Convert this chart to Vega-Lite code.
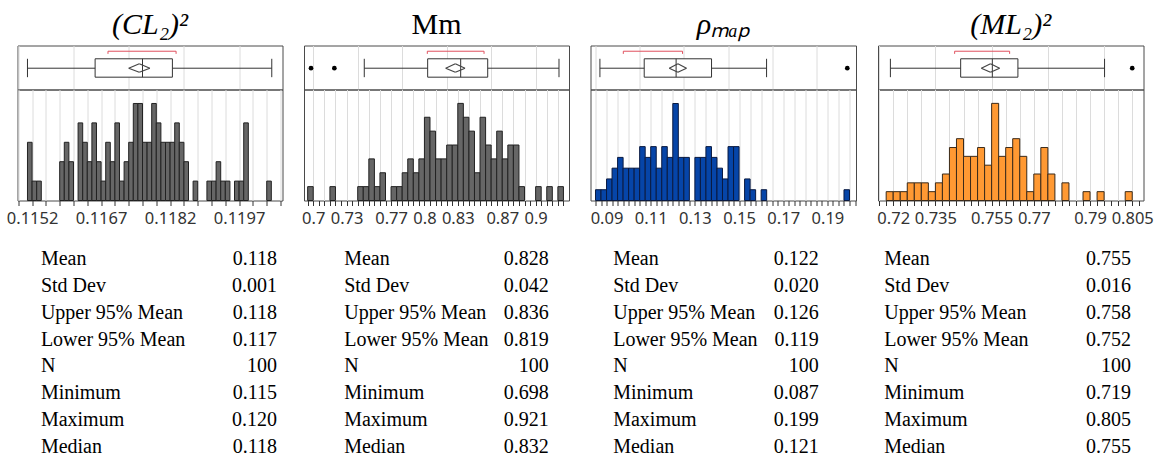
{
  "$schema": "https://vega.github.io/schema/vega-lite/v6.json",
  "background": "white",
  "padding": {"left": 5.5, "top": 8.5, "right": 5, "bottom": 0},
  "config": {
    "view": {"stroke": "#4a4a4a", "strokeWidth": 1},
    "title": {"font": "Liberation Serif", "fontSize": 30, "fontWeight": "normal", "color": "#000000", "offset": 6, "anchor": "middle"},
    "axis": {"labelFont": "Noto Sans", "labelFontSize": 16.5, "labelColor": "#333333", "gridColor": "#dcdcdc", "gridWidth": 1, "tickColor": "#333333", "tickSize": 5, "labelPadding": 4.5, "labelOverlap": false, "labelFlush": false, "domain": false}
  },
  "datasets": {
    "hist": [
      {"panel": "p1", "b0": 0.1151, "b1": 0.1152, "n": 3},
      {"panel": "p1", "b0": 0.1152, "b1": 0.1153, "n": 1},
      {"panel": "p1", "b0": 0.1153, "b1": 0.1154, "n": 1},
      {"panel": "p1", "b0": 0.1158, "b1": 0.1159, "n": 2},
      {"panel": "p1", "b0": 0.1159, "b1": 0.1160, "n": 3},
      {"panel": "p1", "b0": 0.1160, "b1": 0.1161, "n": 2},
      {"panel": "p1", "b0": 0.1162, "b1": 0.1163, "n": 4},
      {"panel": "p1", "b0": 0.1163, "b1": 0.1164, "n": 3},
      {"panel": "p1", "b0": 0.1164, "b1": 0.1165, "n": 2},
      {"panel": "p1", "b0": 0.1165, "b1": 0.1166, "n": 4},
      {"panel": "p1", "b0": 0.1166, "b1": 0.1167, "n": 2},
      {"panel": "p1", "b0": 0.1167, "b1": 0.1168, "n": 1},
      {"panel": "p1", "b0": 0.1168, "b1": 0.1169, "n": 3},
      {"panel": "p1", "b0": 0.1169, "b1": 0.1170, "n": 2},
      {"panel": "p1", "b0": 0.1170, "b1": 0.1171, "n": 4},
      {"panel": "p1", "b0": 0.1171, "b1": 0.1172, "n": 1},
      {"panel": "p1", "b0": 0.1172, "b1": 0.1173, "n": 2},
      {"panel": "p1", "b0": 0.1173, "b1": 0.1174, "n": 3},
      {"panel": "p1", "b0": 0.1174, "b1": 0.1175, "n": 5},
      {"panel": "p1", "b0": 0.1175, "b1": 0.1176, "n": 5},
      {"panel": "p1", "b0": 0.1176, "b1": 0.1177, "n": 3},
      {"panel": "p1", "b0": 0.1177, "b1": 0.1178, "n": 3},
      {"panel": "p1", "b0": 0.1178, "b1": 0.1179, "n": 5},
      {"panel": "p1", "b0": 0.1179, "b1": 0.1180, "n": 4},
      {"panel": "p1", "b0": 0.1180, "b1": 0.1181, "n": 3},
      {"panel": "p1", "b0": 0.1181, "b1": 0.1182, "n": 3},
      {"panel": "p1", "b0": 0.1182, "b1": 0.1183, "n": 3},
      {"panel": "p1", "b0": 0.1183, "b1": 0.1184, "n": 4},
      {"panel": "p1", "b0": 0.1184, "b1": 0.1185, "n": 3},
      {"panel": "p1", "b0": 0.1185, "b1": 0.1186, "n": 2},
      {"panel": "p1", "b0": 0.1187, "b1": 0.1188, "n": 1},
      {"panel": "p1", "b0": 0.1190, "b1": 0.1191, "n": 1},
      {"panel": "p1", "b0": 0.1191, "b1": 0.1192, "n": 1},
      {"panel": "p1", "b0": 0.1192, "b1": 0.1193, "n": 2},
      {"panel": "p1", "b0": 0.1193, "b1": 0.1194, "n": 1},
      {"panel": "p1", "b0": 0.1194, "b1": 0.1195, "n": 1},
      {"panel": "p1", "b0": 0.1196, "b1": 0.1197, "n": 1},
      {"panel": "p1", "b0": 0.1197, "b1": 0.1198, "n": 1},
      {"panel": "p1", "b0": 0.1198, "b1": 0.1199, "n": 4},
      {"panel": "p1", "b0": 0.1203, "b1": 0.1204, "n": 1},

      {"panel": "p2", "b0": 0.695, "b1": 0.700, "n": 1},
      {"panel": "p2", "b0": 0.715, "b1": 0.720, "n": 1},
      {"panel": "p2", "b0": 0.740, "b1": 0.745, "n": 1},
      {"panel": "p2", "b0": 0.745, "b1": 0.750, "n": 1},
      {"panel": "p2", "b0": 0.750, "b1": 0.755, "n": 3},
      {"panel": "p2", "b0": 0.755, "b1": 0.760, "n": 1},
      {"panel": "p2", "b0": 0.760, "b1": 0.765, "n": 2},
      {"panel": "p2", "b0": 0.770, "b1": 0.775, "n": 1},
      {"panel": "p2", "b0": 0.775, "b1": 0.780, "n": 1},
      {"panel": "p2", "b0": 0.780, "b1": 0.785, "n": 2},
      {"panel": "p2", "b0": 0.785, "b1": 0.790, "n": 3},
      {"panel": "p2", "b0": 0.790, "b1": 0.795, "n": 2},
      {"panel": "p2", "b0": 0.795, "b1": 0.800, "n": 3},
      {"panel": "p2", "b0": 0.800, "b1": 0.805, "n": 6},
      {"panel": "p2", "b0": 0.805, "b1": 0.810, "n": 5},
      {"panel": "p2", "b0": 0.810, "b1": 0.815, "n": 3},
      {"panel": "p2", "b0": 0.815, "b1": 0.820, "n": 3},
      {"panel": "p2", "b0": 0.820, "b1": 0.825, "n": 4},
      {"panel": "p2", "b0": 0.825, "b1": 0.830, "n": 4},
      {"panel": "p2", "b0": 0.830, "b1": 0.835, "n": 7},
      {"panel": "p2", "b0": 0.835, "b1": 0.840, "n": 6},
      {"panel": "p2", "b0": 0.840, "b1": 0.845, "n": 5},
      {"panel": "p2", "b0": 0.845, "b1": 0.850, "n": 2},
      {"panel": "p2", "b0": 0.850, "b1": 0.855, "n": 6},
      {"panel": "p2", "b0": 0.855, "b1": 0.860, "n": 4},
      {"panel": "p2", "b0": 0.860, "b1": 0.865, "n": 3},
      {"panel": "p2", "b0": 0.865, "b1": 0.870, "n": 5},
      {"panel": "p2", "b0": 0.870, "b1": 0.875, "n": 3},
      {"panel": "p2", "b0": 0.875, "b1": 0.880, "n": 4},
      {"panel": "p2", "b0": 0.880, "b1": 0.885, "n": 4},
      {"panel": "p2", "b0": 0.885, "b1": 0.890, "n": 1},
      {"panel": "p2", "b0": 0.900, "b1": 0.905, "n": 1},
      {"panel": "p2", "b0": 0.910, "b1": 0.915, "n": 1},
      {"panel": "p2", "b0": 0.920, "b1": 0.925, "n": 1},

      {"panel": "p3", "b0": 0.085, "b1": 0.0875, "n": 1},
      {"panel": "p3", "b0": 0.0875, "b1": 0.09, "n": 1},
      {"panel": "p3", "b0": 0.09, "b1": 0.0925, "n": 2},
      {"panel": "p3", "b0": 0.0925, "b1": 0.095, "n": 3},
      {"panel": "p3", "b0": 0.095, "b1": 0.0975, "n": 4},
      {"panel": "p3", "b0": 0.0975, "b1": 0.1, "n": 3},
      {"panel": "p3", "b0": 0.1, "b1": 0.1025, "n": 3},
      {"panel": "p3", "b0": 0.1025, "b1": 0.105, "n": 3},
      {"panel": "p3", "b0": 0.105, "b1": 0.1075, "n": 5},
      {"panel": "p3", "b0": 0.1075, "b1": 0.11, "n": 4},
      {"panel": "p3", "b0": 0.11, "b1": 0.1125, "n": 5},
      {"panel": "p3", "b0": 0.1125, "b1": 0.115, "n": 3},
      {"panel": "p3", "b0": 0.115, "b1": 0.1175, "n": 5},
      {"panel": "p3", "b0": 0.1175, "b1": 0.12, "n": 4},
      {"panel": "p3", "b0": 0.12, "b1": 0.1225, "n": 9},
      {"panel": "p3", "b0": 0.1225, "b1": 0.125, "n": 4},
      {"panel": "p3", "b0": 0.125, "b1": 0.1275, "n": 4},
      {"panel": "p3", "b0": 0.13, "b1": 0.1325, "n": 4},
      {"panel": "p3", "b0": 0.1325, "b1": 0.135, "n": 4},
      {"panel": "p3", "b0": 0.135, "b1": 0.1375, "n": 5},
      {"panel": "p3", "b0": 0.1375, "b1": 0.14, "n": 4},
      {"panel": "p3", "b0": 0.14, "b1": 0.1425, "n": 3},
      {"panel": "p3", "b0": 0.1425, "b1": 0.145, "n": 2},
      {"panel": "p3", "b0": 0.145, "b1": 0.1475, "n": 5},
      {"panel": "p3", "b0": 0.1475, "b1": 0.15, "n": 5},
      {"panel": "p3", "b0": 0.1525, "b1": 0.155, "n": 2},
      {"panel": "p3", "b0": 0.155, "b1": 0.1575, "n": 1},
      {"panel": "p3", "b0": 0.16, "b1": 0.1625, "n": 1},
      {"panel": "p3", "b0": 0.1975, "b1": 0.2, "n": 1},

      {"panel": "p4", "b0": 0.7175, "b1": 0.72, "n": 1},
      {"panel": "p4", "b0": 0.72, "b1": 0.7225, "n": 1},
      {"panel": "p4", "b0": 0.7225, "b1": 0.725, "n": 1},
      {"panel": "p4", "b0": 0.725, "b1": 0.7275, "n": 2},
      {"panel": "p4", "b0": 0.7275, "b1": 0.73, "n": 2},
      {"panel": "p4", "b0": 0.73, "b1": 0.7325, "n": 2},
      {"panel": "p4", "b0": 0.7325, "b1": 0.735, "n": 1},
      {"panel": "p4", "b0": 0.735, "b1": 0.7375, "n": 2},
      {"panel": "p4", "b0": 0.7375, "b1": 0.74, "n": 3},
      {"panel": "p4", "b0": 0.74, "b1": 0.7425, "n": 6},
      {"panel": "p4", "b0": 0.7425, "b1": 0.745, "n": 7},
      {"panel": "p4", "b0": 0.745, "b1": 0.7475, "n": 5},
      {"panel": "p4", "b0": 0.7475, "b1": 0.75, "n": 5},
      {"panel": "p4", "b0": 0.75, "b1": 0.7525, "n": 6},
      {"panel": "p4", "b0": 0.7525, "b1": 0.755, "n": 4},
      {"panel": "p4", "b0": 0.755, "b1": 0.7575, "n": 11},
      {"panel": "p4", "b0": 0.7575, "b1": 0.76, "n": 5},
      {"panel": "p4", "b0": 0.76, "b1": 0.7625, "n": 6},
      {"panel": "p4", "b0": 0.7625, "b1": 0.765, "n": 7},
      {"panel": "p4", "b0": 0.765, "b1": 0.7675, "n": 5},
      {"panel": "p4", "b0": 0.7675, "b1": 0.77, "n": 1},
      {"panel": "p4", "b0": 0.77, "b1": 0.7725, "n": 3},
      {"panel": "p4", "b0": 0.7725, "b1": 0.775, "n": 6},
      {"panel": "p4", "b0": 0.775, "b1": 0.7775, "n": 3},
      {"panel": "p4", "b0": 0.78, "b1": 0.7825, "n": 2},
      {"panel": "p4", "b0": 0.7875, "b1": 0.79, "n": 1},
      {"panel": "p4", "b0": 0.7925, "b1": 0.795, "n": 1},
      {"panel": "p4", "b0": 0.8025, "b1": 0.805, "n": 1}
    ],
    "box": [
      {"panel": "p1", "wlo": 0.1151, "whi": 0.12041, "q1": 0.11657, "q3": 0.11825, "med": 0.1176, "mean": 0.11753, "clo": 0.1173, "chi": 0.11776, "blo": 0.11685, "bhi": 0.11833},
      {"panel": "p2", "wlo": 0.7459, "whi": 0.921, "q1": 0.8029, "q3": 0.8569, "med": 0.8326, "mean": 0.8278, "clo": 0.8191, "chi": 0.8365, "blo": 0.8026, "bhi": 0.8536},
      {"panel": "p3", "wlo": 0.087, "whi": 0.16245, "q1": 0.10706, "q3": 0.13754, "med": 0.1215, "mean": 0.1223, "clo": 0.1184, "chi": 0.1262, "blo": 0.0976, "bhi": 0.1244},
      {"panel": "p4", "wlo": 0.719, "whi": 0.79516, "q1": 0.74399, "q3": 0.76435, "med": 0.75525, "mean": 0.7546, "clo": 0.75134, "chi": 0.75784, "blo": 0.74185, "bhi": 0.7614}
    ],
    "out": [
      {"panel": "p2", "v": 0.698},
      {"panel": "p2", "v": 0.719},
      {"panel": "p3", "v": 0.199},
      {"panel": "p4", "v": 0.805}
    ],
    "stats": [
      {"panel": "p1", "stat": "Mean", "val": "0.118"},
      {"panel": "p1", "stat": "Std Dev", "val": "0.001"},
      {"panel": "p1", "stat": "Upper 95% Mean", "val": "0.118"},
      {"panel": "p1", "stat": "Lower 95% Mean", "val": "0.117"},
      {"panel": "p1", "stat": "N", "val": "100"},
      {"panel": "p1", "stat": "Minimum", "val": "0.115"},
      {"panel": "p1", "stat": "Maximum", "val": "0.120"},
      {"panel": "p1", "stat": "Median", "val": "0.118"},
      {"panel": "p2", "stat": "Mean", "val": "0.828"},
      {"panel": "p2", "stat": "Std Dev", "val": "0.042"},
      {"panel": "p2", "stat": "Upper 95% Mean", "val": "0.836"},
      {"panel": "p2", "stat": "Lower 95% Mean", "val": "0.819"},
      {"panel": "p2", "stat": "N", "val": "100"},
      {"panel": "p2", "stat": "Minimum", "val": "0.698"},
      {"panel": "p2", "stat": "Maximum", "val": "0.921"},
      {"panel": "p2", "stat": "Median", "val": "0.832"},
      {"panel": "p3", "stat": "Mean", "val": "0.122"},
      {"panel": "p3", "stat": "Std Dev", "val": "0.020"},
      {"panel": "p3", "stat": "Upper 95% Mean", "val": "0.126"},
      {"panel": "p3", "stat": "Lower 95% Mean", "val": "0.119"},
      {"panel": "p3", "stat": "N", "val": "100"},
      {"panel": "p3", "stat": "Minimum", "val": "0.087"},
      {"panel": "p3", "stat": "Maximum", "val": "0.199"},
      {"panel": "p3", "stat": "Median", "val": "0.121"},
      {"panel": "p4", "stat": "Mean", "val": "0.755"},
      {"panel": "p4", "stat": "Std Dev", "val": "0.016"},
      {"panel": "p4", "stat": "Upper 95% Mean", "val": "0.758"},
      {"panel": "p4", "stat": "Lower 95% Mean", "val": "0.752"},
      {"panel": "p4", "stat": "N", "val": "100"},
      {"panel": "p4", "stat": "Minimum", "val": "0.719"},
      {"panel": "p4", "stat": "Maximum", "val": "0.805"},
      {"panel": "p4", "stat": "Median", "val": "0.755"}
    ]
  },
  "columns": 4,
  "spacing": {"row": 0, "column": 21.5},
  "bounds": "flush",
  "concat": [
    {
      "width": 265, "height": 44,
      "title": {"text": "(CL₂)²", "fontStyle": "italic"},
      "layer": [
        {
          "data": {"name": "box"},
          "transform": [{"filter": "datum.panel == 'p1'"}],
          "layer": [
            {"mark": {"type": "rule", "color": "#333333"}, "encoding": {
              "x": {"field": "wlo", "type": "quantitative", "scale": {"domain": [0.114883, 0.120643], "nice": false, "zero": false}, "axis": {"title": null, "labels": false, "ticks": false, "domain": false, "grid": true, "values": [0.1149, 0.1152, 0.1155, 0.1158, 0.1161, 0.1164, 0.1167, 0.117, 0.1173, 0.1176, 0.1179, 0.1182, 0.1185, 0.1188, 0.1191, 0.1194, 0.1197, 0.12, 0.1203, 0.1206]}},
              "x2": {"field": "whi"},
              "y": {"datum": 0.484, "type": "quantitative", "scale": {"domain": [0, 1], "nice": false, "zero": false}, "axis": null}}},
            {"mark": {"type": "rule", "color": "#333333"}, "encoding": {"x": {"field": "wlo", "type": "quantitative"}, "y": {"datum": 0.28, "type": "quantitative", "axis": null}, "y2": {"datum": 0.698}}},
            {"mark": {"type": "rule", "color": "#333333"}, "encoding": {"x": {"field": "whi", "type": "quantitative"}, "y": {"datum": 0.28, "type": "quantitative", "axis": null}, "y2": {"datum": 0.698}}},
            {"mark": {"type": "rect", "fill": "white", "stroke": "#333333", "strokeWidth": 1}, "encoding": {"x": {"field": "q1", "type": "quantitative"}, "x2": {"field": "q3"}, "y": {"datum": 0.28, "type": "quantitative", "axis": null}, "y2": {"datum": 0.698}}},
            {"mark": {"type": "rule", "color": "#333333"}, "encoding": {"x": {"field": "med", "type": "quantitative"}, "y": {"datum": 0.28, "type": "quantitative", "axis": null}, "y2": {"datum": 0.698}}},
            {"mark": {"type": "rule", "color": "#444444", "strokeWidth": 1.2}, "encoding": {"x": {"field": "clo", "type": "quantitative"}, "x2": {"field": "mean"}, "y": {"datum": 0.484, "type": "quantitative", "axis": null}, "y2": {"datum": 0.584}}},
            {"mark": {"type": "rule", "color": "#444444", "strokeWidth": 1.2}, "encoding": {"x": {"field": "mean", "type": "quantitative"}, "x2": {"field": "chi"}, "y": {"datum": 0.584, "type": "quantitative", "axis": null}, "y2": {"datum": 0.484}}},
            {"mark": {"type": "rule", "color": "#444444", "strokeWidth": 1.2}, "encoding": {"x": {"field": "chi", "type": "quantitative"}, "x2": {"field": "mean"}, "y": {"datum": 0.484, "type": "quantitative", "axis": null}, "y2": {"datum": 0.393}}},
            {"mark": {"type": "rule", "color": "#444444", "strokeWidth": 1.2}, "encoding": {"x": {"field": "mean", "type": "quantitative"}, "x2": {"field": "clo"}, "y": {"datum": 0.393, "type": "quantitative", "axis": null}, "y2": {"datum": 0.484}}},
            {"mark": {"type": "rule", "color": "#e0505e"}, "encoding": {"x": {"field": "blo", "type": "quantitative"}, "x2": {"field": "bhi"}, "y": {"datum": 0.87, "type": "quantitative", "axis": null}}},
            {"mark": {"type": "rule", "color": "#e0505e"}, "encoding": {"x": {"field": "blo", "type": "quantitative"}, "y": {"datum": 0.87, "type": "quantitative", "axis": null}, "y2": {"datum": 0.81}}},
            {"mark": {"type": "rule", "color": "#e0505e"}, "encoding": {"x": {"field": "bhi", "type": "quantitative"}, "y": {"datum": 0.87, "type": "quantitative", "axis": null}, "y2": {"datum": 0.81}}}
          ]
        }
      ]
    },
    {
      "width": 265, "height": 44,
      "title": {"text": "Mm"},
      "layer": [
        {
          "data": {"name": "box"},
          "transform": [{"filter": "datum.panel == 'p2'"}],
          "layer": [
            {"mark": {"type": "rule", "color": "#333333"}, "encoding": {
              "x": {"field": "wlo", "type": "quantitative", "scale": {"domain": [0.6917, 0.93], "nice": false, "zero": false}, "axis": {"title": null, "labels": false, "ticks": false, "domain": false, "grid": true, "values": [0.7, 0.71, 0.72, 0.73, 0.74, 0.75, 0.76, 0.77, 0.78, 0.79, 0.8, 0.81, 0.82, 0.83, 0.84, 0.85, 0.86, 0.87, 0.88, 0.89, 0.9, 0.91, 0.92]}},
              "x2": {"field": "whi"},
              "y": {"datum": 0.484, "type": "quantitative", "scale": {"domain": [0, 1], "nice": false, "zero": false}, "axis": null}}},
            {"mark": {"type": "rule", "color": "#333333"}, "encoding": {"x": {"field": "wlo", "type": "quantitative"}, "y": {"datum": 0.28, "type": "quantitative", "axis": null}, "y2": {"datum": 0.698}}},
            {"mark": {"type": "rule", "color": "#333333"}, "encoding": {"x": {"field": "whi", "type": "quantitative"}, "y": {"datum": 0.28, "type": "quantitative", "axis": null}, "y2": {"datum": 0.698}}},
            {"mark": {"type": "rect", "fill": "white", "stroke": "#333333", "strokeWidth": 1}, "encoding": {"x": {"field": "q1", "type": "quantitative"}, "x2": {"field": "q3"}, "y": {"datum": 0.28, "type": "quantitative", "axis": null}, "y2": {"datum": 0.698}}},
            {"mark": {"type": "rule", "color": "#333333"}, "encoding": {"x": {"field": "med", "type": "quantitative"}, "y": {"datum": 0.28, "type": "quantitative", "axis": null}, "y2": {"datum": 0.698}}},
            {"mark": {"type": "rule", "color": "#444444", "strokeWidth": 1.2}, "encoding": {"x": {"field": "clo", "type": "quantitative"}, "x2": {"field": "mean"}, "y": {"datum": 0.484, "type": "quantitative", "axis": null}, "y2": {"datum": 0.584}}},
            {"mark": {"type": "rule", "color": "#444444", "strokeWidth": 1.2}, "encoding": {"x": {"field": "mean", "type": "quantitative"}, "x2": {"field": "chi"}, "y": {"datum": 0.584, "type": "quantitative", "axis": null}, "y2": {"datum": 0.484}}},
            {"mark": {"type": "rule", "color": "#444444", "strokeWidth": 1.2}, "encoding": {"x": {"field": "chi", "type": "quantitative"}, "x2": {"field": "mean"}, "y": {"datum": 0.484, "type": "quantitative", "axis": null}, "y2": {"datum": 0.393}}},
            {"mark": {"type": "rule", "color": "#444444", "strokeWidth": 1.2}, "encoding": {"x": {"field": "mean", "type": "quantitative"}, "x2": {"field": "clo"}, "y": {"datum": 0.393, "type": "quantitative", "axis": null}, "y2": {"datum": 0.484}}},
            {"mark": {"type": "rule", "color": "#e0505e"}, "encoding": {"x": {"field": "blo", "type": "quantitative"}, "x2": {"field": "bhi"}, "y": {"datum": 0.87, "type": "quantitative", "axis": null}}},
            {"mark": {"type": "rule", "color": "#e0505e"}, "encoding": {"x": {"field": "blo", "type": "quantitative"}, "y": {"datum": 0.87, "type": "quantitative", "axis": null}, "y2": {"datum": 0.81}}},
            {"mark": {"type": "rule", "color": "#e0505e"}, "encoding": {"x": {"field": "bhi", "type": "quantitative"}, "y": {"datum": 0.87, "type": "quantitative", "axis": null}, "y2": {"datum": 0.81}}}
          ]
        },
        {
          "data": {"name": "out"},
          "transform": [{"filter": "datum.panel == 'p2'"}],
          "mark": {"type": "point", "filled": true, "color": "#000000", "size": 22, "opacity": 1},
          "encoding": {"x": {"field": "v", "type": "quantitative"}, "y": {"datum": 0.484, "type": "quantitative", "axis": null}}
        }
      ]
    },
    {
      "width": 265.5, "height": 44,
      "title": {"text": "ρₘₐₚ", "fontStyle": "italic"},
      "layer": [
        {
          "data": {"name": "box"},
          "transform": [{"filter": "datum.panel == 'p3'"}],
          "layer": [
            {"mark": {"type": "rule", "color": "#333333"}, "encoding": {
              "x": {"field": "wlo", "type": "quantitative", "scale": {"domain": [0.08274, 0.20294], "nice": false, "zero": false}, "axis": {"title": null, "labels": false, "ticks": false, "domain": false, "grid": true, "values": [0.085, 0.09, 0.095, 0.1, 0.105, 0.11, 0.115, 0.12, 0.125, 0.13, 0.135, 0.14, 0.145, 0.15, 0.155, 0.16, 0.165, 0.17, 0.175, 0.18, 0.185, 0.19, 0.195, 0.2]}},
              "x2": {"field": "whi"},
              "y": {"datum": 0.484, "type": "quantitative", "scale": {"domain": [0, 1], "nice": false, "zero": false}, "axis": null}}},
            {"mark": {"type": "rule", "color": "#333333"}, "encoding": {"x": {"field": "wlo", "type": "quantitative"}, "y": {"datum": 0.28, "type": "quantitative", "axis": null}, "y2": {"datum": 0.698}}},
            {"mark": {"type": "rule", "color": "#333333"}, "encoding": {"x": {"field": "whi", "type": "quantitative"}, "y": {"datum": 0.28, "type": "quantitative", "axis": null}, "y2": {"datum": 0.698}}},
            {"mark": {"type": "rect", "fill": "white", "stroke": "#333333", "strokeWidth": 1}, "encoding": {"x": {"field": "q1", "type": "quantitative"}, "x2": {"field": "q3"}, "y": {"datum": 0.28, "type": "quantitative", "axis": null}, "y2": {"datum": 0.698}}},
            {"mark": {"type": "rule", "color": "#333333"}, "encoding": {"x": {"field": "med", "type": "quantitative"}, "y": {"datum": 0.28, "type": "quantitative", "axis": null}, "y2": {"datum": 0.698}}},
            {"mark": {"type": "rule", "color": "#444444", "strokeWidth": 1.2}, "encoding": {"x": {"field": "clo", "type": "quantitative"}, "x2": {"field": "mean"}, "y": {"datum": 0.484, "type": "quantitative", "axis": null}, "y2": {"datum": 0.584}}},
            {"mark": {"type": "rule", "color": "#444444", "strokeWidth": 1.2}, "encoding": {"x": {"field": "mean", "type": "quantitative"}, "x2": {"field": "chi"}, "y": {"datum": 0.584, "type": "quantitative", "axis": null}, "y2": {"datum": 0.484}}},
            {"mark": {"type": "rule", "color": "#444444", "strokeWidth": 1.2}, "encoding": {"x": {"field": "chi", "type": "quantitative"}, "x2": {"field": "mean"}, "y": {"datum": 0.484, "type": "quantitative", "axis": null}, "y2": {"datum": 0.393}}},
            {"mark": {"type": "rule", "color": "#444444", "strokeWidth": 1.2}, "encoding": {"x": {"field": "mean", "type": "quantitative"}, "x2": {"field": "clo"}, "y": {"datum": 0.393, "type": "quantitative", "axis": null}, "y2": {"datum": 0.484}}},
            {"mark": {"type": "rule", "color": "#e0505e"}, "encoding": {"x": {"field": "blo", "type": "quantitative"}, "x2": {"field": "bhi"}, "y": {"datum": 0.87, "type": "quantitative", "axis": null}}},
            {"mark": {"type": "rule", "color": "#e0505e"}, "encoding": {"x": {"field": "blo", "type": "quantitative"}, "y": {"datum": 0.87, "type": "quantitative", "axis": null}, "y2": {"datum": 0.81}}},
            {"mark": {"type": "rule", "color": "#e0505e"}, "encoding": {"x": {"field": "bhi", "type": "quantitative"}, "y": {"datum": 0.87, "type": "quantitative", "axis": null}, "y2": {"datum": 0.81}}}
          ]
        },
        {
          "data": {"name": "out"},
          "transform": [{"filter": "datum.panel == 'p3'"}],
          "mark": {"type": "point", "filled": true, "color": "#000000", "size": 22, "opacity": 1},
          "encoding": {"x": {"field": "v", "type": "quantitative"}, "y": {"datum": 0.484, "type": "quantitative", "axis": null}}
        }
      ]
    },
    {
      "width": 265.5, "height": 44,
      "title": {"text": "(ML₂)²", "fontStyle": "italic"},
      "layer": [
        {
          "data": {"name": "box"},
          "transform": [{"filter": "datum.panel == 'p4'"}],
          "layer": [
            {"mark": {"type": "rule", "color": "#333333"}, "encoding": {
              "x": {"field": "wlo", "type": "quantitative", "scale": {"domain": [0.71459, 0.80901], "nice": false, "zero": false}, "axis": {"title": null, "labels": false, "ticks": false, "domain": false, "grid": true, "values": [0.715, 0.72, 0.725, 0.73, 0.735, 0.74, 0.745, 0.75, 0.755, 0.76, 0.765, 0.77, 0.775, 0.78, 0.785, 0.79, 0.795, 0.8, 0.805]}},
              "x2": {"field": "whi"},
              "y": {"datum": 0.484, "type": "quantitative", "scale": {"domain": [0, 1], "nice": false, "zero": false}, "axis": null}}},
            {"mark": {"type": "rule", "color": "#333333"}, "encoding": {"x": {"field": "wlo", "type": "quantitative"}, "y": {"datum": 0.28, "type": "quantitative", "axis": null}, "y2": {"datum": 0.698}}},
            {"mark": {"type": "rule", "color": "#333333"}, "encoding": {"x": {"field": "whi", "type": "quantitative"}, "y": {"datum": 0.28, "type": "quantitative", "axis": null}, "y2": {"datum": 0.698}}},
            {"mark": {"type": "rect", "fill": "white", "stroke": "#333333", "strokeWidth": 1}, "encoding": {"x": {"field": "q1", "type": "quantitative"}, "x2": {"field": "q3"}, "y": {"datum": 0.28, "type": "quantitative", "axis": null}, "y2": {"datum": 0.698}}},
            {"mark": {"type": "rule", "color": "#333333"}, "encoding": {"x": {"field": "med", "type": "quantitative"}, "y": {"datum": 0.28, "type": "quantitative", "axis": null}, "y2": {"datum": 0.698}}},
            {"mark": {"type": "rule", "color": "#444444", "strokeWidth": 1.2}, "encoding": {"x": {"field": "clo", "type": "quantitative"}, "x2": {"field": "mean"}, "y": {"datum": 0.484, "type": "quantitative", "axis": null}, "y2": {"datum": 0.584}}},
            {"mark": {"type": "rule", "color": "#444444", "strokeWidth": 1.2}, "encoding": {"x": {"field": "mean", "type": "quantitative"}, "x2": {"field": "chi"}, "y": {"datum": 0.584, "type": "quantitative", "axis": null}, "y2": {"datum": 0.484}}},
            {"mark": {"type": "rule", "color": "#444444", "strokeWidth": 1.2}, "encoding": {"x": {"field": "chi", "type": "quantitative"}, "x2": {"field": "mean"}, "y": {"datum": 0.484, "type": "quantitative", "axis": null}, "y2": {"datum": 0.393}}},
            {"mark": {"type": "rule", "color": "#444444", "strokeWidth": 1.2}, "encoding": {"x": {"field": "mean", "type": "quantitative"}, "x2": {"field": "clo"}, "y": {"datum": 0.393, "type": "quantitative", "axis": null}, "y2": {"datum": 0.484}}},
            {"mark": {"type": "rule", "color": "#e0505e"}, "encoding": {"x": {"field": "blo", "type": "quantitative"}, "x2": {"field": "bhi"}, "y": {"datum": 0.87, "type": "quantitative", "axis": null}}},
            {"mark": {"type": "rule", "color": "#e0505e"}, "encoding": {"x": {"field": "blo", "type": "quantitative"}, "y": {"datum": 0.87, "type": "quantitative", "axis": null}, "y2": {"datum": 0.81}}},
            {"mark": {"type": "rule", "color": "#e0505e"}, "encoding": {"x": {"field": "bhi", "type": "quantitative"}, "y": {"datum": 0.87, "type": "quantitative", "axis": null}, "y2": {"datum": 0.81}}}
          ]
        },
        {
          "data": {"name": "out"},
          "transform": [{"filter": "datum.panel == 'p4'"}],
          "mark": {"type": "point", "filled": true, "color": "#000000", "size": 22, "opacity": 1},
          "encoding": {"x": {"field": "v", "type": "quantitative"}, "y": {"datum": 0.484, "type": "quantitative", "axis": null}}
        }
      ]
    },
    {
      "width": 265, "height": 111,
      "data": {"name": "hist"},
      "transform": [{"filter": "datum.panel == 'p1'"}],
      "mark": {"type": "rect", "fill": "#666666", "stroke": "#222222", "strokeWidth": 1},
      "encoding": {
        "x": {"field": "b0", "type": "quantitative", "scale": {"domain": [0.114883, 0.120643], "nice": false, "zero": false},
          "axis": {"title": null, "grid": true, "values": [0.1149, 0.1152, 0.1155, 0.1158, 0.1161, 0.1164, 0.1167, 0.117, 0.1173, 0.1176, 0.1179, 0.1182, 0.1185, 0.1188, 0.1191, 0.1194, 0.1197, 0.12, 0.1203, 0.1206],
            "labelExpr": "indexof(['0.1152','0.1167','0.1182','0.1197'], format(datum.value,'.4f')) >= 0 ? format(datum.value,'.4f') : ''"}},
        "x2": {"field": "b1"},
        "y": {"field": "n", "type": "quantitative", "scale": {"domain": [0, 5.72], "nice": false}, "axis": null},
        "y2": {"datum": 0}
      }
    },
    {
      "width": 265, "height": 111,
      "data": {"name": "hist"},
      "transform": [{"filter": "datum.panel == 'p2'"}],
      "mark": {"type": "rect", "fill": "#666666", "stroke": "#222222", "strokeWidth": 1},
      "encoding": {
        "x": {"field": "b0", "type": "quantitative", "scale": {"domain": [0.6917, 0.93], "nice": false, "zero": false},
          "axis": {"title": null, "grid": true, "values": [0.695, 0.7, 0.705, 0.71, 0.715, 0.72, 0.725, 0.73, 0.735, 0.74, 0.745, 0.75, 0.755, 0.76, 0.765, 0.77, 0.775, 0.78, 0.785, 0.79, 0.795, 0.8, 0.805, 0.81, 0.815, 0.82, 0.825, 0.83, 0.835, 0.84, 0.845, 0.85, 0.855, 0.86, 0.865, 0.87, 0.875, 0.88, 0.885, 0.89, 0.895, 0.9, 0.905, 0.91, 0.915, 0.92, 0.925],
            "gridOpacity": {"condition": {"test": "abs(datum.value*100 - round(datum.value*100)) < 0.01", "value": 1}, "value": 0},
            "labelExpr": "indexof(['0.700','0.730','0.770','0.800','0.830','0.870','0.900'], format(datum.value,'.3f')) >= 0 ? format(datum.value,'.2~f') : ''"}},
        "x2": {"field": "b1"},
        "y": {"field": "n", "type": "quantitative", "scale": {"domain": [0, 8.0], "nice": false}, "axis": null},
        "y2": {"datum": 0}
      }
    },
    {
      "width": 265.5, "height": 111,
      "data": {"name": "hist"},
      "transform": [{"filter": "datum.panel == 'p3'"}],
      "mark": {"type": "rect", "fill": "#0645a8", "stroke": "#0a1a40", "strokeWidth": 1},
      "encoding": {
        "x": {"field": "b0", "type": "quantitative", "scale": {"domain": [0.08274, 0.20294], "nice": false, "zero": false},
          "axis": {"title": null, "grid": true, "values": [0.085, 0.0875, 0.09, 0.0925, 0.095, 0.0975, 0.1, 0.1025, 0.105, 0.1075, 0.11, 0.1125, 0.115, 0.1175, 0.12, 0.1225, 0.125, 0.1275, 0.13, 0.1325, 0.135, 0.1375, 0.14, 0.1425, 0.145, 0.1475, 0.15, 0.1525, 0.155, 0.1575, 0.16, 0.1625, 0.165, 0.1675, 0.17, 0.1725, 0.175, 0.1775, 0.18, 0.1825, 0.185, 0.1875, 0.19, 0.1925, 0.195, 0.1975, 0.2, 0.2025],
            "gridOpacity": {"condition": {"test": "abs(datum.value*200 - round(datum.value*200)) < 0.01", "value": 1}, "value": 0},
            "labelExpr": "indexof(['0.0900','0.1100','0.1300','0.1500','0.1700','0.1900'], format(datum.value,'.4f')) >= 0 ? format(datum.value,'.2f') : ''"}},
        "x2": {"field": "b1"},
        "y": {"field": "n", "type": "quantitative", "scale": {"domain": [0, 10.3], "nice": false}, "axis": null},
        "y2": {"datum": 0}
      }
    },
    {
      "width": 265.5, "height": 111,
      "data": {"name": "hist"},
      "transform": [{"filter": "datum.panel == 'p4'"}],
      "mark": {"type": "rect", "fill": "#ff9933", "stroke": "#3a2a1a", "strokeWidth": 1},
      "encoding": {
        "x": {"field": "b0", "type": "quantitative", "scale": {"domain": [0.71459, 0.80901], "nice": false, "zero": false},
          "axis": {"title": null, "grid": true, "values": [0.715, 0.7175, 0.72, 0.7225, 0.725, 0.7275, 0.73, 0.7325, 0.735, 0.7375, 0.74, 0.7425, 0.745, 0.7475, 0.75, 0.7525, 0.755, 0.7575, 0.76, 0.7625, 0.765, 0.7675, 0.77, 0.7725, 0.775, 0.7775, 0.78, 0.7825, 0.785, 0.7875, 0.79, 0.7925, 0.795, 0.7975, 0.8, 0.8025, 0.805, 0.8075],
            "gridOpacity": {"condition": {"test": "abs(datum.value*200 - round(datum.value*200)) < 0.01", "value": 1}, "value": 0},
            "labelExpr": "indexof(['0.7200','0.7350','0.7550','0.7700','0.7900','0.8050'], format(datum.value,'.4f')) >= 0 ? format(datum.value,'.3~f') : ''"}},
        "x2": {"field": "b1"},
        "y": {"field": "n", "type": "quantitative", "scale": {"domain": [0, 12.57], "nice": false}, "axis": null},
        "y2": {"datum": 0}
      }
    },
    {
      "width": 265, "height": 260.1,
      "view": {"stroke": null},
      "data": {"name": "stats"},
      "transform": [{"filter": "datum.panel == 'p1'"}],
      "encoding": {"y": {"field": "stat", "type": "ordinal", "bandPosition": 0.5, "sort": ["Mean", "Std Dev", "Upper 95% Mean", "Lower 95% Mean", "N", "Minimum", "Maximum", "Median"], "scale": {"type": "band", "paddingInner": 0, "paddingOuter": 0.834, "align": 1}, "axis": null}},
      "layer": [
        {"mark": {"type": "text", "align": "left", "baseline": "middle", "font": "Liberation Serif", "fontSize": 20, "color": "#000000"},
         "encoding": {"x": {"datum": "L", "type": "nominal", "scale": {"type": "point", "domain": ["L", "R"], "padding": 0.0614, "align": 0.807}, "axis": null}, "text": {"field": "stat"}}},
        {"mark": {"type": "text", "align": "right", "baseline": "middle", "font": "Liberation Serif", "fontSize": 20, "color": "#000000"},
         "encoding": {"x": {"datum": "R", "type": "nominal", "axis": null}, "text": {"field": "val"}}}
      ]
    },
    {
      "width": 265, "height": 260.1,
      "view": {"stroke": null},
      "data": {"name": "stats"},
      "transform": [{"filter": "datum.panel == 'p2'"}],
      "encoding": {"y": {"field": "stat", "type": "ordinal", "bandPosition": 0.5, "sort": ["Mean", "Std Dev", "Upper 95% Mean", "Lower 95% Mean", "N", "Minimum", "Maximum", "Median"], "scale": {"type": "band", "paddingInner": 0, "paddingOuter": 0.834, "align": 1}, "axis": null}},
      "layer": [
        {"mark": {"type": "text", "align": "left", "baseline": "middle", "font": "Liberation Serif", "fontSize": 20, "color": "#000000"},
         "encoding": {"x": {"datum": "L", "type": "nominal", "scale": {"type": "point", "domain": ["L", "R"], "padding": 0.148, "align": 0.664}, "axis": null}, "text": {"field": "stat"}}},
        {"mark": {"type": "text", "align": "right", "baseline": "middle", "font": "Liberation Serif", "fontSize": 20, "color": "#000000"},
         "encoding": {"x": {"datum": "R", "type": "nominal", "axis": null}, "text": {"field": "val"}}}
      ]
    },
    {
      "width": 265.5, "height": 260.1,
      "view": {"stroke": null},
      "data": {"name": "stats"},
      "transform": [{"filter": "datum.panel == 'p3'"}],
      "encoding": {"y": {"field": "stat", "type": "ordinal", "bandPosition": 0.5, "sort": ["Mean", "Std Dev", "Upper 95% Mean", "Lower 95% Mean", "N", "Minimum", "Maximum", "Median"], "scale": {"type": "band", "paddingInner": 0, "paddingOuter": 0.834, "align": 1}, "axis": null}},
      "layer": [
        {"mark": {"type": "text", "align": "left", "baseline": "middle", "font": "Liberation Serif", "fontSize": 20, "color": "#000000"},
         "encoding": {"x": {"datum": "L", "type": "nominal", "scale": {"type": "point", "domain": ["L", "R"], "padding": 0.146, "align": 0.378}, "axis": null}, "text": {"field": "stat"}}},
        {"mark": {"type": "text", "align": "right", "baseline": "middle", "font": "Liberation Serif", "fontSize": 20, "color": "#000000"},
         "encoding": {"x": {"datum": "R", "type": "nominal", "axis": null}, "text": {"field": "val"}}}
      ]
    },
    {
      "width": 265.5, "height": 260.1,
      "view": {"stroke": null},
      "data": {"name": "stats"},
      "transform": [{"filter": "datum.panel == 'p4'"}],
      "encoding": {"y": {"field": "stat", "type": "ordinal", "bandPosition": 0.5, "sort": ["Mean", "Std Dev", "Upper 95% Mean", "Lower 95% Mean", "N", "Minimum", "Maximum", "Median"], "scale": {"type": "band", "paddingInner": 0, "paddingOuter": 0.834, "align": 1}, "axis": null}},
      "layer": [
        {"mark": {"type": "text", "align": "left", "baseline": "middle", "font": "Liberation Serif", "fontSize": 20, "color": "#000000"},
         "encoding": {"x": {"datum": "L", "type": "nominal", "scale": {"type": "point", "domain": ["L", "R"], "padding": 0.0381, "align": 0.33}, "axis": null}, "text": {"field": "stat"}}},
        {"mark": {"type": "text", "align": "right", "baseline": "middle", "font": "Liberation Serif", "fontSize": 20, "color": "#000000"},
         "encoding": {"x": {"datum": "R", "type": "nominal", "axis": null}, "text": {"field": "val"}}}
      ]
    }
  ]
}
